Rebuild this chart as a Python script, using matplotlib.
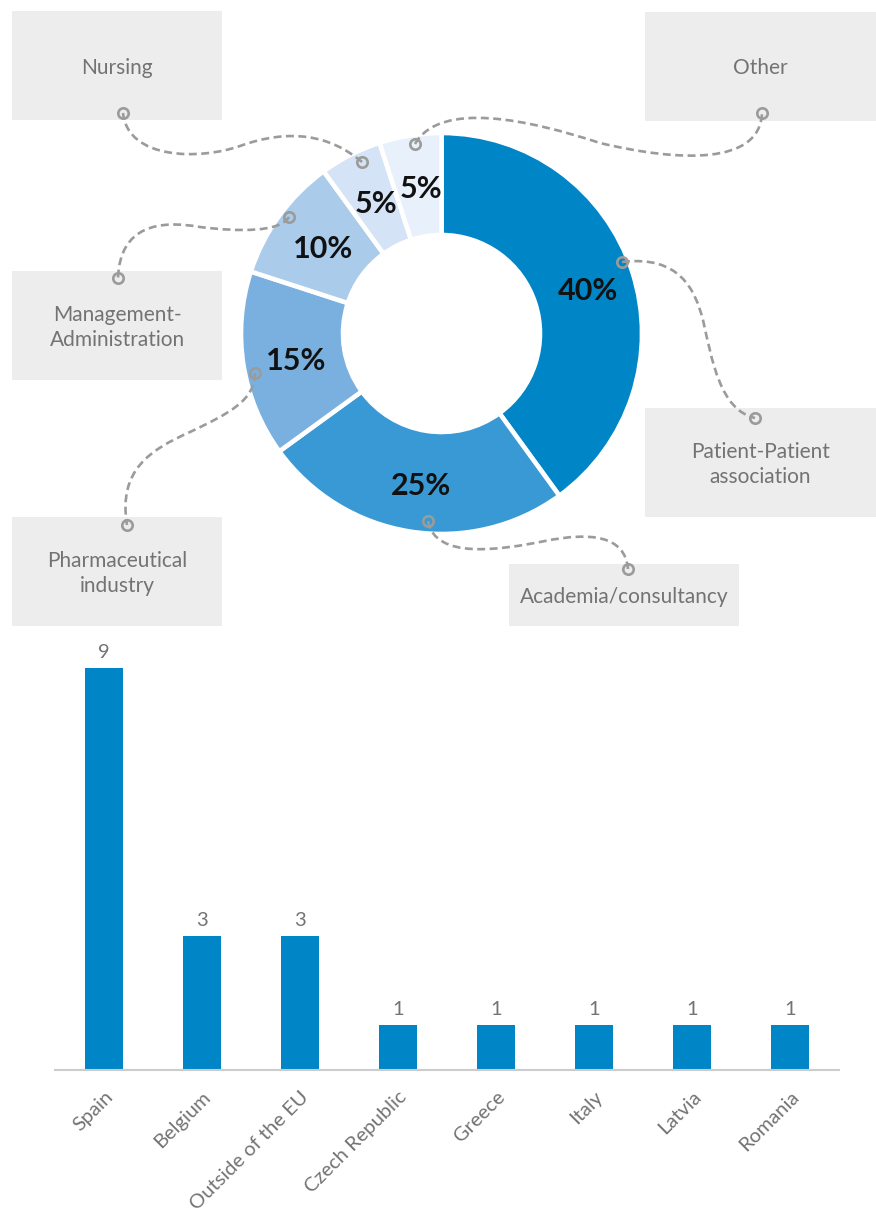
import numpy as np
import matplotlib
matplotlib.use("Agg")
import matplotlib.pyplot as plt
from matplotlib.path import Path
from matplotlib.patches import PathPatch, Rectangle

plt.rcParams['font.family'] = ['Lato', 'DejaVu Sans']

# Respondent profile (share of respondents, %)
profiles = ['Patient-Patient\nassociation', 'Academia/consultancy', 'Pharmaceutical\nindustry',
            'Management-\nAdministration', 'Nursing', 'Other']
shares = [40, 25, 15, 10, 5, 5]
donut_colors = ['#0085C7', '#3899D4', '#7AB0DF', '#ABCBEA', '#D4E3F5', '#E8F0FB']

# Respondents per country
countries = ['Spain', 'Belgium', 'Outside of the EU', 'Czech Republic',
             'Greece', 'Italy', 'Latvia', 'Romania']
counts = [9, 3, 3, 1, 1, 1, 1, 1]

W, H = 876, 1219
GREY_TXT = '#737373'
BOX = '#EDEDED'
LINE = '#9B9B9B'


def px(x, y):
    # pixel position measured from the top-left corner -> axes data coords
    return x, H - y


fig = plt.figure(figsize=(W / 100, H / 100), dpi=100)
ax = fig.add_axes([0, 0, 1, 1])

# --- donut -------------------------------------------------------------
cx, cy = px(441.5, 333.5)
wedges, _, pct_texts = ax.pie(
    shares, colors=donut_colors, startangle=90, counterclock=False,
    radius=200.5, center=(cx, cy), pctdistance=0.75,
    autopct=lambda p: f'{p:.0f}%',
    wedgeprops=dict(width=102, edgecolor='white', linewidth=3.3),
    textprops=dict(fontsize=22, fontweight='bold', color='#111111'))
for w in wedges:
    w.set_zorder(2)
for t in pct_texts:
    t.set_zorder(5)
    tx, ty = t.get_position()
    t.set_position((tx + 3, ty - 4))

# --- label boxes (left, top, right, bottom in pixels) -----------------
boxes = {
    'Patient-Patient\nassociation': (645, 408, 876, 517),
    'Academia/consultancy': (509, 564, 739, 626),
    'Pharmaceutical\nindustry': (12, 517, 222, 626),
    'Management-\nAdministration': (12, 271, 222, 380),
    'Nursing': (12, 11, 222, 120),
    'Other': (645, 12, 876, 121),
}
for name in profiles:
    x0, y0, x1, y1 = boxes[name]
    bx, by = px(x0, y1)
    ax.add_patch(Rectangle((bx, by), x1 - x0, y1 - y0, facecolor=BOX,
                           edgecolor='none', zorder=1))
    tx, ty = px((x0 + x1) / 2, (y0 + y1) / 2 + 2)
    ax.text(tx, ty, name, ha='center', va='center', fontsize=15,
            color=GREY_TXT, linespacing=1.3, zorder=3)

# --- dashed connectors: start, then two cubic bezier segments ----------
connectors = {
    'Patient-Patient\nassociation': [(622, 262), (680, 255), (695, 290), (703, 320),
                                     (712, 360), (720, 410), (755, 418)],
    'Academia/consultancy': [(428, 521), (435, 560), (500, 550), (545, 541),
                             (590, 532), (625, 535), (628, 569)],
    'Pharmaceutical\nindustry': [(255, 373), (255, 400), (230, 413), (190, 432),
                                 (150, 450), (118, 470), (127, 525)],
    'Management-\nAdministration': [(289, 217), (280, 232), (240, 232), (200, 227),
                                    (160, 220), (120, 225), (118, 278)],
    'Nursing': [(362, 162), (330, 135), (290, 128), (240, 146),
                (200, 160), (128, 160), (123, 113)],
    'Other': [(415, 144), (440, 100), (530, 120), (600, 143),
              (680, 162), (760, 165), (762, 113)],
}
codes = [Path.MOVETO] + [Path.CURVE4] * 6
for name in profiles:
    pts = [px(x, y) for x, y in connectors[name]]
    ax.add_patch(PathPatch(Path(pts, codes), fill=False, edgecolor=LINE,
                           linewidth=1.9, linestyle=(0, (3.0, 1.7)), zorder=3))
    ends = np.array([pts[0], pts[-1]])
    ax.plot(ends[:, 0], ends[:, 1], 'o', ms=7.5, mfc='none', mec=LINE,
            mew=1.9, zorder=4)

ax.set_xlim(0, W)
ax.set_ylim(0, H)
ax.set_aspect('equal')
ax.axis('off')

# --- bar chart ---------------------------------------------------------
bx = fig.add_axes([55 / W, 149 / H, 784 / W, 447 / H])
bx.patch.set_alpha(0)
x = np.arange(len(countries))
bars = bx.bar(x, counts, width=0.385, color='#0085C7')
bx.bar_label(bars, labels=[str(c) for c in counts], padding=5,
             fontsize=14.5, color=GREY_TXT)
bx.set_xlim(-0.5, len(countries) - 0.5)
bx.set_ylim(0, 10)
bx.set_xticks(x)
bx.set_xticklabels(countries, rotation=45, ha='right', rotation_mode='anchor',
                   fontsize=14.5, color=GREY_TXT)
bx.tick_params(axis='x', length=0, pad=13)
bx.set_yticks([])
for side in ['top', 'left', 'right']:
    bx.spines[side].set_visible(False)
bx.spines['bottom'].set_color('#CCCCCC')
bx.spines['bottom'].set_linewidth(1.5)

fig.savefig('out.png', dpi=100)
